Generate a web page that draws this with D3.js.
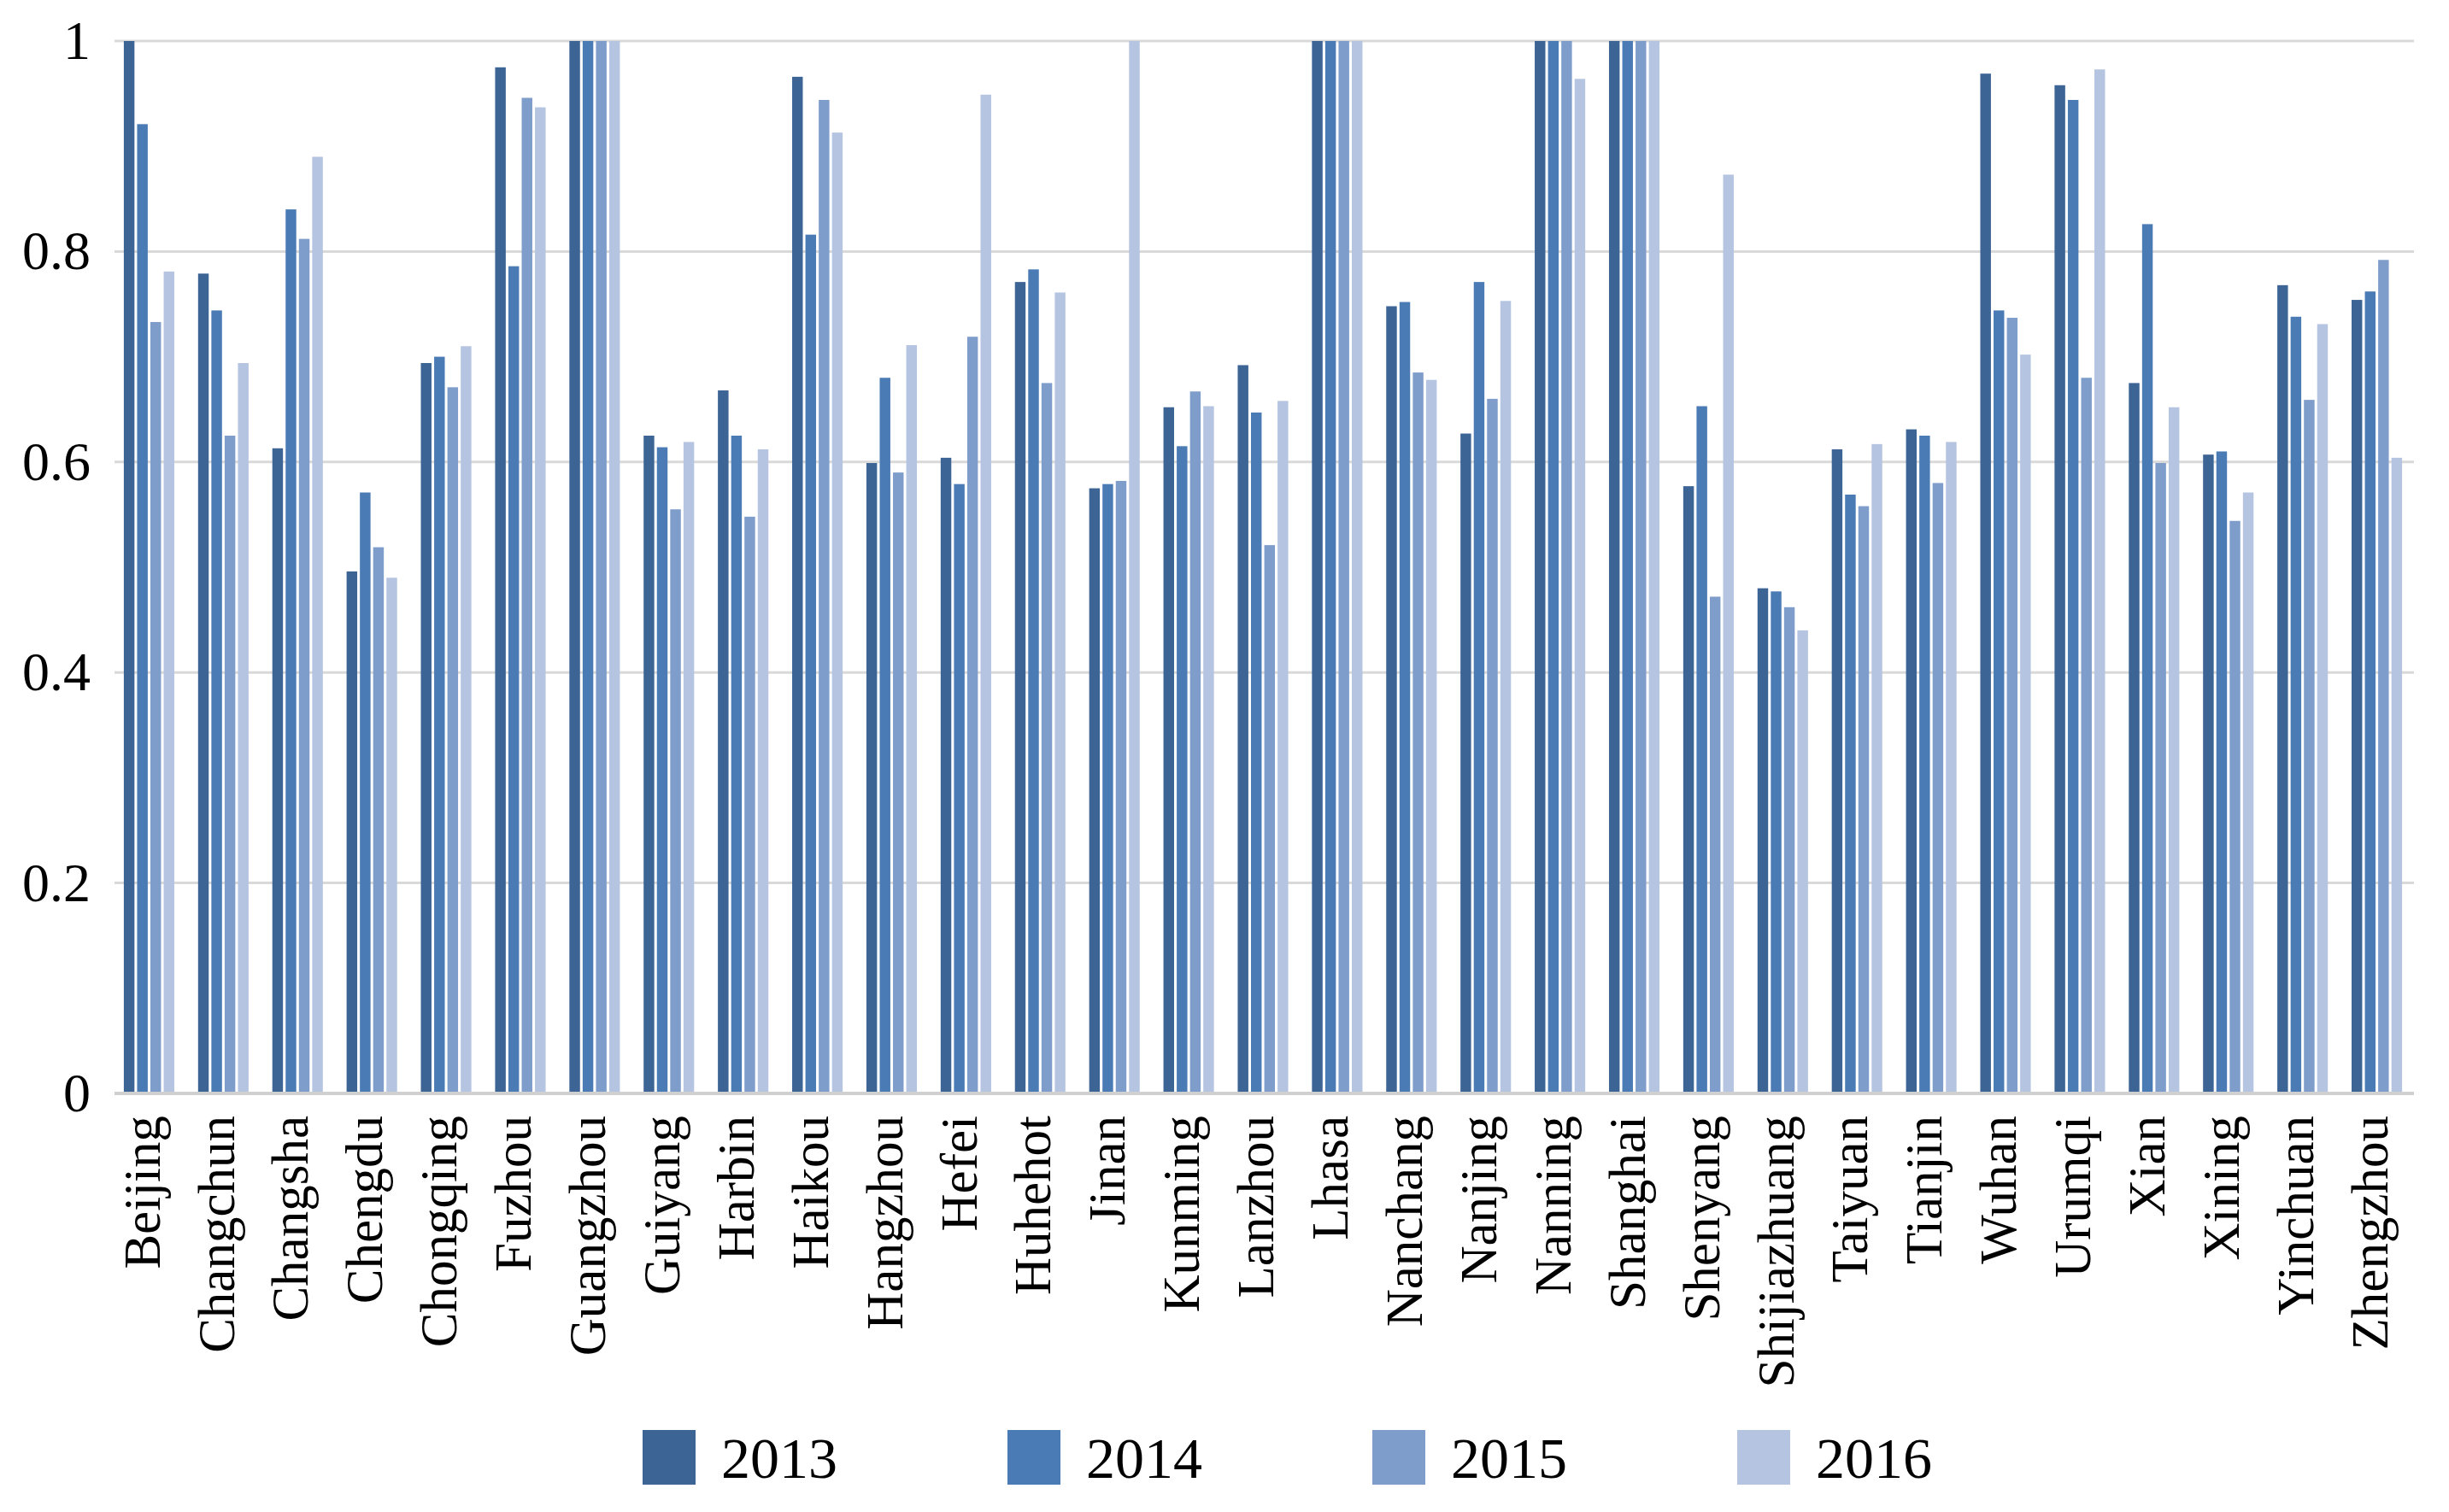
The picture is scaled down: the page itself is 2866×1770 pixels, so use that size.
<!DOCTYPE html>
<html lang="en">
<head>
  <meta charset="utf-8">
  <title>Cities 2013-2016</title>
  <script src="https://d3js.org/d3.v7.min.js"></script>
  <style>
    body { margin: 0; background: #fff; }
    text { font-family: "Liberation Serif", "Times New Roman", serif; fill: #000; }
  </style>
</head>
<body>
<div id="chart"></div>
<script>
  // categories and series
  var cities = ["Beijing", "Changchun", "Changsha", "Chengdu", "Chongqing", "Fuzhou", "Guangzhou",
    "Guiyang", "Harbin", "Haikou", "Hangzhou", "Hefei", "Huhehot", "Jinan", "Kunming", "Lanzhou",
    "Lhasa", "Nanchang", "Nanjing", "Nanning", "Shanghai", "Shenyang", "Shijiazhuang", "Taiyuan",
    "Tianjin", "Wuhan", "Urumqi", "Xian", "Xining", "Yinchuan", "Zhengzhou"];
  var years = ["2013", "2014", "2015", "2016"];

  var v2013 = [1, 0.779, 0.613, 0.496, 0.694, 0.975, 1, 0.625, 0.668, 0.966, 0.599, 0.604, 0.771,
    0.575, 0.652, 0.692, 1, 0.748, 0.627, 1, 1, 0.577, 0.480, 0.612, 0.631, 0.969, 0.958, 0.675,
    0.607, 0.768, 0.754];
  var v2014 = [0.921, 0.744, 0.840, 0.571, 0.700, 0.786, 1, 0.614, 0.625, 0.816, 0.680, 0.579, 0.783,
    0.579, 0.615, 0.647, 1, 0.752, 0.771, 1, 1, 0.653, 0.477, 0.569, 0.625, 0.744, 0.944, 0.826,
    0.610, 0.738, 0.762];
  var v2015 = [0.733, 0.625, 0.812, 0.519, 0.671, 0.946, 1, 0.555, 0.548, 0.944, 0.590, 0.719, 0.675,
    0.582, 0.667, 0.521, 1, 0.685, 0.660, 1, 1, 0.472, 0.462, 0.558, 0.580, 0.737, 0.680, 0.599,
    0.544, 0.659, 0.792];
  var v2016 = [0.781, 0.694, 0.890, 0.490, 0.710, 0.937, 1, 0.619, 0.612, 0.913, 0.711, 0.949, 0.761,
    1, 0.653, 0.658, 1, 0.678, 0.753, 0.964, 1, 0.873, 0.440, 0.617, 0.619, 0.702, 0.973, 0.652,
    0.571, 0.731, 0.604];
  var yTicks = [0, 0.2, 0.4, 0.6, 0.8, 1];
  var colors = ["#3c6495", "#4a7bb5", "#7f9dcb", "#b4c4e1"];

  var series = [v2013, v2014, v2015, v2016];
  var rows = cities.map(function(c, i) {
    return { city: c, vals: years.map(function(y, k) { return { year: y, v: series[k][i] }; }) };
  });

  var W = 2866, H = 1770;
  var svg = d3.select("#chart").append("svg")
    .attr("width", W).attr("height", H);

  var x0 = d3.scaleBand().domain(cities).range([131, 2825])
    .paddingInner(0.32).paddingOuter(0.16);
  var x1 = d3.scaleBand().domain(years).range([0, x0.bandwidth()])
    .paddingInner(0.2);
  var y = d3.scaleLinear().domain([0, 1]).range([1280, 48]);
  var color = d3.scaleOrdinal().domain(years).range(colors);

  // gridlines
  svg.append("g")
    .selectAll("line")
    .data(yTicks.slice(1))
    .enter().append("line")
    .attr("x1", 134).attr("x2", 2825)
    .attr("y1", function(d) { return y(d); })
    .attr("y2", function(d) { return y(d); })
    .attr("stroke", "#d9d9d9").attr("stroke-width", 3);

  // bars
  svg.append("g")
    .selectAll("g")
    .data(rows)
    .enter().append("g")
    .attr("transform", function(d) { return "translate(" + x0(d.city) + ",0)"; })
    .selectAll("rect")
    .data(function(d) { return d.vals; })
    .enter().append("rect")
    .attr("x", function(d) { return x1(d.year); })
    .attr("y", function(d) { return y(d.v); })
    .attr("width", x1.bandwidth())
    .attr("height", function(d) { return y(0) - y(d.v); })
    .attr("fill", function(d) { return color(d.year); });

  // baseline
  svg.append("line")
    .attr("x1", 134).attr("x2", 2825)
    .attr("y1", y(0)).attr("y2", y(0))
    .attr("stroke", "#d0d0d0").attr("stroke-width", 4);

  // y axis labels (no line, no ticks)
  var yAxis = svg.append("g")
    .attr("transform", "translate(106,0)")
    .call(d3.axisLeft(y).tickValues(yTicks).tickSize(0).tickPadding(0)
      .tickFormat(function(d) { return d === 0 || d === 1 ? d3.format("d")(d) : d3.format(".1f")(d); }));
  yAxis.select(".domain").remove();
  yAxis.selectAll("text")
    .attr("font-size", 64)
    .attr("font-family", "Liberation Serif")
    .attr("fill", "#000");

  // x axis labels, rotated
  svg.append("g")
    .selectAll("text")
    .data(cities)
    .enter().append("text")
    .attr("transform", function(d) {
      return "translate(" + (x0(d) + x0.bandwidth() / 2) + ",1306) rotate(-90)";
    })
    .attr("text-anchor", "end")
    .attr("dy", "0.2em")
    .attr("font-size", 61)
    .text(function(d) { return d; });

  // legend
  var legend = svg.append("g")
    .selectAll("g")
    .data(years)
    .enter().append("g")
    .attr("transform", function(d, i) { return "translate(" + (752 + i * 427) + ",1674)"; });
  legend.append("rect")
    .attr("width", 62).attr("height", 64)
    .attr("fill", function(d) { return color(d); });
  legend.append("text")
    .attr("x", 92).attr("y", 56)
    .attr("font-size", 68)
    .text(function(d) { return d; });
</script>
</body>
</html>
